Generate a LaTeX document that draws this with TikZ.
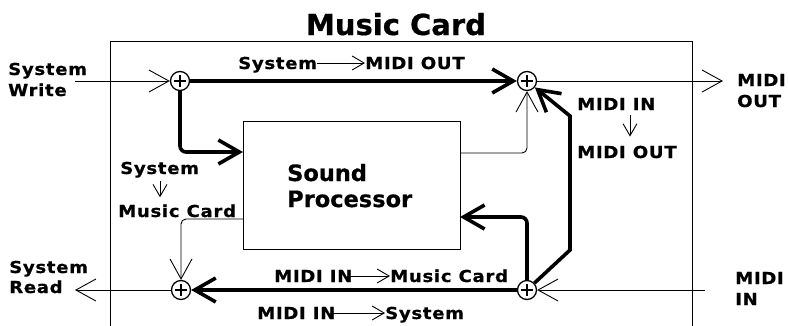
\documentclass[tikz,border=0pt]{standalone}
\usepackage{fontspec}
\setmainfont{DejaVu Sans}
\newfontfamily\labfam[FakeStretch=1.1,LetterSpace=4,FakeBold=0.6]{DejaVu Sans}
\newfontfamily\ttlfam[FakeBold=0.6]{DejaVu Sans}
\usetikzlibrary{arrows.meta,calc}
\newcommand\labf{\labfam\bfseries\fontsize{16.5}{20}\selectfont}
\newcommand\spf{\ttlfam\bfseries\fontsize{22.5}{27}\selectfont}
\newcommand\ttlf{\ttlfam\bfseries\fontsize{29}{34}\selectfont}
\tikzset{
  thinl/.style={line width=0.9pt},
  thickl/.style={line width=3.6pt},
  tipthin/.style={-{Straight Barb[length=20pt,width=22pt]}},
  tipthick/.style={-{Straight Barb[length=21pt,width=24pt]}},
  tiplab/.style={thinl,-{Straight Barb[length=12pt,width=14pt]}},
  sum/.style={circle,draw,line width=1.3pt,minimum size=19pt,inner sep=0pt,
    path picture={\draw[line width=1.6pt] ($(path picture bounding box.center)+(-6,0)$) -- ($(path picture bounding box.center)+(6,0)$)
      ($(path picture bounding box.center)+(0,-6)$) -- ($(path picture bounding box.center)+(0,6)$);}},
  lab/.style={font=\labf,inner sep=0pt,anchor=base west},
}
\begin{document}
\begin{tikzpicture}[x=1pt,y=-1pt]
\useasboundingbox (0,0) rectangle (788,325);
% outer card
\draw[thinl] (110,335) -- (110,41) -- (692,41) -- (692,335);
\node[font=\ttlf,inner sep=0pt,anchor=base] (title) at (396,35) {Music Card};
% sound processor
\node[draw,thinl,minimum width=217pt,minimum height=128pt,anchor=north west,inner sep=0pt] (sp) at (243,121) {};
\node[font=\spf,inner sep=0pt,anchor=base west] (spa) at (287,181) {Sound};
\node[font=\spf,inner sep=0pt,anchor=base west] (spb) at (287,207) {Processor};
% summing junctions
\node[sum] (sw) at (180,81) {};
\node[sum] (tr) at (527,81) {};
\node[sum] (bl) at (181,290) {};
\node[sum] (br) at (527,290) {};
% free ends and bends
\coordinate (swin) at (75,81);
\coordinate (rdout) at (75,290);
\coordinate (moout) at (723,81);
\coordinate (miin) at (705,290);
\coordinate (spLin) at (243,152);
\coordinate (spLout) at (243,219);
\coordinate (spRout) at (460,153);
\coordinate (spRin) at (460,217);
\coordinate (k1) at (570,250);
\coordinate (k2) at (570,116);
% connectors
\draw[thinl,tipthin] (swin) -- (sw);
\draw[thickl,tipthick] (sw) -- (tr);
\draw[thickl,tipthick,rounded corners=6pt] (sw) |- (spLin);
\draw[thinl,tipthin,rounded corners=5pt] (spRout) -| (tr);
\draw[thinl,tipthin] (tr) -- (moout);
\draw[thinl,tipthin] (miin) -- (br);
\draw[thickl,tipthick] (br) -- (bl);
\draw[thickl,tipthick] (br) -- (k1) -- (k2) -- (tr);
\draw[thickl,tipthick,rounded corners=6pt] (br) |- (spRin);
\draw[thinl,tipthin,rounded corners=5pt] (spLout) -| (bl);
\draw[thinl,tipthin] (bl) -- (rdout);
% outside labels
\node[lab] (swa) at (8,75) {System};
\node[lab] (swb) at (8,96) {Write};
\node[lab] (sra) at (9,273) {System};
\node[lab] (srb) at (9,293) {Read};
\node[lab] (moa) at (737,86) {MIDI};
\node[lab] (mob) at (737,107) {OUT};
\node[lab] (mia) at (735,284) {MIDI};
\node[lab] (mib) at (735,305) {IN};
% path labels
\node[lab] (p1a) at (238,69) {System};
\node[lab] (p1b) at (365,69) {MIDI OUT};
\draw[tiplab] ($(p1a.base east)+(0,-6)$) -- ($(p1b.base west)+(0,-6)$);
\node[lab] (p2a) at (577,110) {MIDI IN};
\node[lab] (p2b) at (577,158) {MIDI OUT};
\coordinate (ax2) at (630,0);
\draw[tiplab,shorten <=5pt,shorten >=9pt] (p2a.south -| ax2) -- (p2b.north -| ax2);
\node[lab] (p3a) at (120,174) {System};
\node[lab] (p3b) at (118,217) {Music Card};
\coordinate (ax3) at (160,0);
\draw[tiplab,shorten <=3pt,shorten >=7pt] (p3a.south -| ax3) -- (p3b.north -| ax3);
\node[lab] (p4a) at (274,282) {MIDI IN};
\node[lab] (p4b) at (390,282) {Music Card};
\draw[tiplab] ($(p4a.base east)+(-6,-6)$) -- ($(p4b.base west)+(0,-6)$);
\node[lab] (p5a) at (257,319) {MIDI IN};
\node[lab] (p5b) at (385,319) {System};
\draw[tiplab] ($(p5a.base east)+(-6,-6)$) -- ($(p5b.base west)+(0,-6)$);
\end{tikzpicture}
\end{document}
